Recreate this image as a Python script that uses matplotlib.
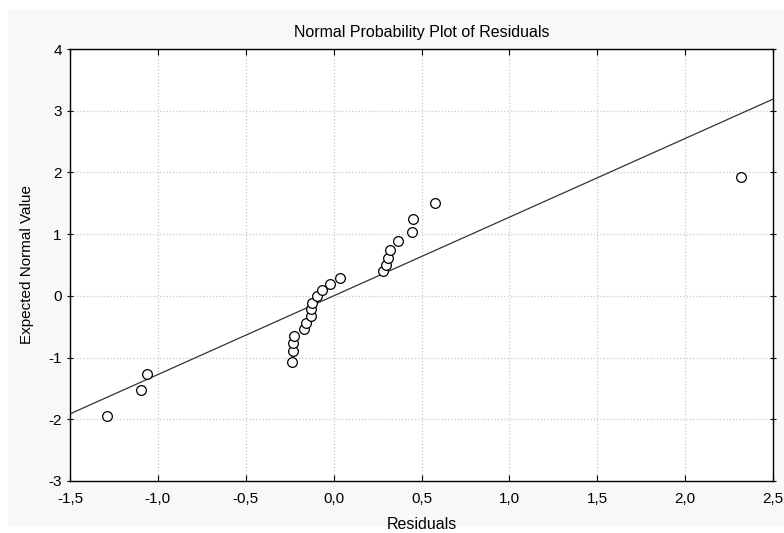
import numpy as np
import matplotlib
matplotlib.use("Agg")
from matplotlib import pyplot as plt
from matplotlib.patches import Rectangle
from matplotlib.ticker import FuncFormatter

# residuals and expected normal values
residuals = [-1.291, -1.098, -1.061,
             -0.237, -0.231, -0.229, -0.223, -0.166, -0.159, -0.131,
             -0.127, -0.123, -0.095, -0.064, -0.021, 0.036,
             0.280, 0.299, 0.307, 0.322, 0.366, 0.445, 0.451, 0.574,
             2.317]
expected = [-1.95, -1.53, -1.27,
            -1.07, -0.90, -0.77, -0.65, -0.54, -0.44, -0.32,
            -0.22, -0.12, 0.00, 0.09, 0.19, 0.29,
            0.40, 0.50, 0.62, 0.75, 0.89, 1.04, 1.24, 1.50,
            1.92]

# reference line y = slope * x + intercept
slope = 1.275
intercept = 0.0

x_ticks = [-1.5, -1.0, -0.5, 0.0, 0.5, 1.0, 1.5, 2.0, 2.5]
y_ticks = [-3, -2, -1, 0, 1, 2, 3, 4]

plt.rcParams['font.family'] = ['Liberation Sans', 'DejaVu Sans']

fig = plt.figure(figsize=(7.84, 5.33), dpi=100, facecolor='white')
fig.patches.append(Rectangle((8 / 784, 0.012), 1, 0.97, transform=fig.transFigure,
                             facecolor='#f8f8f8', edgecolor='none', zorder=-1))
ax = fig.add_axes([70 / 784, 1 - 481 / 533, 703 / 784, 432 / 533])
ax.set_facecolor('white')

ax.set_xlim(x_ticks[0], x_ticks[-1])
ax.set_ylim(y_ticks[0], y_ticks[-1])
ax.set_xticks(x_ticks)
ax.set_yticks(y_ticks)
ax.xaxis.set_major_formatter(FuncFormatter(lambda v, p: '{:.1f}'.format(v).replace('.', ',')))
ax.yaxis.set_major_formatter(FuncFormatter(lambda v, p: '{:d}'.format(int(round(v)))))
ax.grid(True, color='#c8c8c8', linestyle=':', linewidth=0.9)
ax.set_axisbelow(True)

ax.tick_params(axis='x', labelsize=11, colors='black', length=4, width=0.8,
               direction='in', top=True, pad=8)
ax.tick_params(axis='y', labelsize=11, colors='black', length=4, width=0.8,
               direction='inout', right=True, pad=4)
for side in ax.spines.values():
    side.set_linewidth(1.0)

xl = np.array(x_ticks[::len(x_ticks) - 1])
ax.plot(xl, slope * xl + intercept, color='#333333', linewidth=0.9, zorder=2)
ax.plot(residuals, expected, linestyle='none', marker='o', markersize=7,
        markerfacecolor='white', markeredgecolor='black', markeredgewidth=0.9,
        zorder=3, clip_on=False)

ax.set_title('Normal Probability Plot of Residuals', fontsize=11.5, pad=9)
ax.set_xlabel('Residuals', fontsize=11.5, labelpad=8)
ax.set_ylabel('Expected Normal Value', fontsize=11, labelpad=10)

fig.savefig('out.png', dpi=100, facecolor=fig.get_facecolor())
